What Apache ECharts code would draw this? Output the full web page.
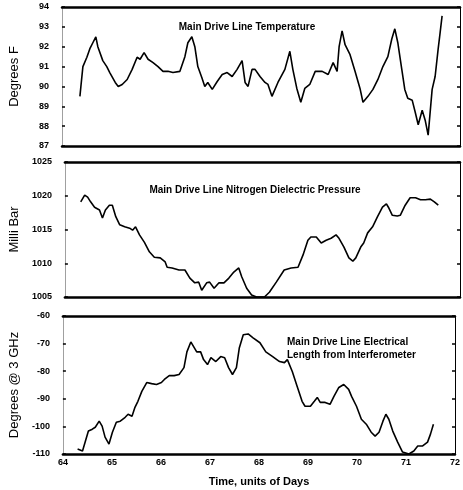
<!DOCTYPE html>
<html><head><meta charset="utf-8">
<script src="https://cdn.jsdelivr.net/npm/echarts@6/dist/echarts.min.js"></script>
<style>html,body{margin:0;padding:0;background:#fff}#c{width:463px;height:490px}</style>
</head><body><div id="c"></div>
<script>
const tempDays=[64.36,64.38,64.42,64.50,64.56,64.62,64.68,64.72,64.82,64.90,64.96,65.07,65.13,65.21,65.31,65.41,65.51,65.57,65.65,65.73,65.83,65.93,66.03,66.13,66.23,66.37,66.47,66.53,66.61,66.67,66.73,66.81,66.87,66.93,67.02,67.12,67.22,67.32,67.42,67.52,67.62,67.68,67.74,67.82,67.88,67.98,68.08,68.14,68.22,68.34,68.48,68.58,68.64,68.72,68.80,68.88,68.98,69.09,69.23,69.35,69.45,69.53,69.57,69.63,69.69,69.79,69.89,69.99,70.05,70.15,70.25,70.35,70.45,70.55,70.63,70.69,70.75,70.83,70.89,70.95,71.04,71.10,71.16,71.24,71.30,71.36,71.44,71.50,71.56,71.60,71.64];
const tempVals=[89.5,90.0,91.0,91.47,91.9,92.2,92.5,92.0,91.3,91.0,90.7,90.2,90.0,90.1,90.35,90.86,91.47,91.37,91.7,91.37,91.2,91.0,90.76,90.76,90.7,90.76,91.5,92.2,92.5,92.0,91.0,90.45,90.0,90.2,89.85,90.25,90.6,90.7,90.5,90.86,91.3,90.2,90.0,90.86,90.86,90.5,90.2,90.1,89.5,90.2,90.86,91.77,90.86,89.9,89.2,89.9,90.1,90.76,90.76,90.6,91.2,90.76,92.0,92.8,92.1,91.6,90.76,89.9,89.2,89.5,89.85,90.35,91.0,91.5,92.4,92.9,92.2,90.86,89.85,89.4,89.3,88.7,88.07,88.8,88.3,87.55,89.85,90.5,91.87,92.7,93.55];

const presDays=[64.32,64.40,64.46,64.52,64.60,64.70,64.76,64.82,64.90,64.96,65.03,65.11,65.21,65.31,65.37,65.43,65.51,65.61,65.71,65.81,65.93,66.03,66.07,66.17,66.31,66.43,66.53,66.63,66.71,66.77,66.87,66.93,67.02,67.12,67.22,67.32,67.42,67.52,67.58,67.68,67.78,67.88,68.04,68.14,68.28,68.44,68.58,68.72,68.82,68.92,68.98,69.09,69.19,69.29,69.39,69.49,69.55,69.65,69.75,69.83,69.89,69.99,70.05,70.13,70.23,70.33,70.43,70.51,70.55,70.63,70.73,70.79,70.89,70.99,71.10,71.20,71.30,71.40,71.48,71.56];
const presVals=[1019.1,1020.1,1019.8,1019.1,1018.3,1017.9,1016.7,1017.9,1018.6,1018.6,1016.9,1015.7,1015.4,1015.2,1014.9,1015.4,1014.2,1013.1,1011.7,1010.9,1010.8,1010.2,1009.4,1009.3,1009.0,1009.0,1007.8,1007.1,1007.2,1006.0,1007.1,1007.2,1006.3,1007.1,1007.1,1007.8,1008.7,1009.3,1008.0,1006.3,1005.3,1005.0,1005.0,1005.7,1007.2,1009.0,1009.3,1009.4,1011.2,1013.4,1013.9,1013.9,1013.0,1013.4,1013.7,1014.2,1013.7,1012.4,1010.8,1010.3,1010.8,1012.4,1013.0,1014.5,1015.4,1016.9,1018.3,1018.8,1018.3,1017.1,1017.0,1017.1,1018.6,1019.7,1019.7,1019.4,1019.4,1019.5,1019.1,1018.6];

const elecDays=[64.30,64.40,64.46,64.52,64.60,64.66,64.74,64.80,64.86,64.94,65.01,65.09,65.17,65.27,65.33,65.41,65.47,65.53,65.61,65.71,65.81,65.91,66.01,66.07,66.17,66.27,66.37,66.47,66.53,66.61,66.67,66.73,66.81,66.87,66.95,67.02,67.12,67.22,67.30,67.38,67.46,67.54,67.60,67.68,67.78,67.88,68.02,68.14,68.28,68.42,68.52,68.58,68.68,68.78,68.88,68.94,69.05,69.13,69.19,69.25,69.35,69.45,69.53,69.63,69.73,69.83,69.89,69.99,70.09,70.19,70.29,70.37,70.45,70.53,70.59,70.65,70.73,70.83,70.93,71.06,71.16,71.24,71.34,71.44,71.50,71.56];
const elecVals=[-108.2,-108.9,-105.3,-101.7,-101.0,-100.3,-98.1,-99.9,-103.9,-106.4,-102.1,-98.5,-98.1,-96.7,-95.6,-96.3,-93.1,-90.9,-87.3,-84.1,-84.5,-84.8,-84.1,-83.0,-81.6,-81.6,-81.2,-78.7,-73.0,-69.4,-71.2,-73.0,-73.0,-75.8,-77.6,-75.1,-76.5,-74.7,-75.1,-78.7,-81.2,-78.7,-71.5,-66.8,-66.5,-67.9,-69.7,-73.0,-74.7,-76.5,-76.9,-75.8,-80.1,-85.5,-90.9,-92.7,-92.7,-90.9,-89.5,-91.3,-91.3,-92.0,-89.1,-85.9,-84.8,-86.6,-89.1,-92.7,-97.4,-99.2,-102.1,-103.5,-102.1,-98.1,-95.6,-97.4,-101.7,-105.7,-109.3,-110.0,-108.9,-107.1,-107.1,-105.7,-102.8,-99.2];

const xTicks=[64,65,66,67,68,69,70,71,72];
const panelTitles=["Main Drive Line Temperature","Main Drive Line Nitrogen Dielectric Pressure","Main Drive Line Electrical\nLength from Interferometer"];
const yNames=["Degrees F","Milli Bar","Degrees @ 3 GHz"];
const yRanges=[[87,94,1],[1005,1025,5],[-110,-60,10]];

const FONT='Liberation Sans';
const grids=[
  {left:62,right:3,top:7,height:139},
  {left:62,right:3,top:162,height:135},
  {left:62,right:3,top:316,height:138}
];
const plain=v=>String(v);
const xAxis=[],yAxis=[],series=[];
grids.forEach((g,i)=>{
  const last=i===2;
  xAxis.push({type:'value',gridIndex:i,min:xTicks[0],max:xTicks[xTicks.length-1],interval:1,position:'bottom',
    axisLine:{lineStyle:{color:'#000',width:2.5}},axisTick:{show:false},
    axisLabel:{show:last,color:'#000',fontFamily:FONT,fontWeight:'bold',fontSize:9,margin:4,formatter:plain},
    splitLine:{show:false},
    name:last?'Time, units of Days':'',nameLocation:'middle',nameGap:22,
    nameTextStyle:{color:'#000',fontFamily:FONT,fontWeight:'bold',fontSize:11}});
  xAxis.push({type:'value',gridIndex:i,min:xTicks[0],max:xTicks[xTicks.length-1],interval:1,position:'top',
    axisLine:{lineStyle:{color:'#000',width:2.5}},axisTick:{show:false},axisLabel:{show:false},splitLine:{show:false}});
  const r=yRanges[i];
  yAxis.push({type:'value',gridIndex:i,min:r[0],max:r[1],interval:r[2],position:'left',
    axisLine:{show:true,lineStyle:{color:'#888',width:0.8}},
    axisTick:{show:true,inside:true,length:3,lineStyle:{color:'#000',width:1.5}},
    axisLabel:{color:'#000',fontFamily:FONT,fontWeight:'bold',fontSize:9,margin:13,formatter:plain},
    splitLine:{show:false},
    name:yNames[i],nameLocation:'middle',nameRotate:90,nameGap:41,
    nameTextStyle:{color:'#000',fontFamily:FONT,fontSize:13}});
  yAxis.push({type:'value',gridIndex:i,min:r[0],max:r[1],interval:r[2],position:'right',
    axisLine:{show:true,lineStyle:{color:'#000',width:1}},
    axisTick:{show:true,inside:true,length:3,lineStyle:{color:'#000',width:1.5}},
    axisLabel:{show:false},splitLine:{show:false}});
});
function pairs(a,b){return a.map((d,k)=>[d,b[k]]);}
const dataSets=[pairs(tempDays,tempVals),pairs(presDays,presVals),pairs(elecDays,elecVals)];
dataSets.forEach((d,i)=>{
  series.push({type:'line',xAxisIndex:i*2,yAxisIndex:i*2,data:d,showSymbol:false,symbol:'none',
    lineStyle:{color:'#000',width:1.6},animation:false});
});
const chart=echarts.init(document.getElementById('c'),null,{renderer:'canvas'});
chart.setOption({
  animation:false,
  backgroundColor:'#fff',
  grid:grids,
  xAxis:xAxis,yAxis:yAxis,series:series,
  title:[
    {text:panelTitles[0],left:242,top:17,textAlign:'center',textStyle:{fontFamily:FONT,fontWeight:'bold',fontSize:10,color:'#000'}},
    {text:panelTitles[1],left:250,top:180,textAlign:'center',textStyle:{fontFamily:FONT,fontWeight:'bold',fontSize:10,color:'#000'}},
    {text:panelTitles[2],left:282,top:331,textStyle:{fontFamily:FONT,fontWeight:'bold',fontSize:10,lineHeight:13,color:'#000'}}
  ]
});
</script></body></html>
